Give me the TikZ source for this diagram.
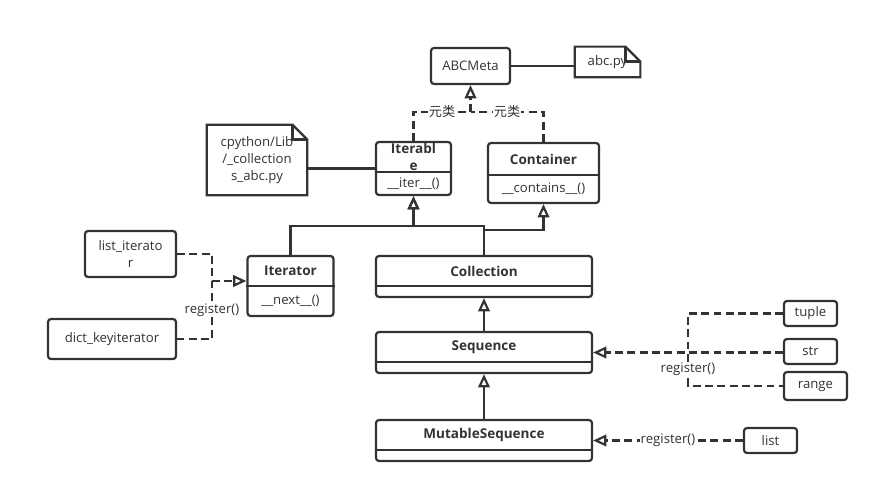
\documentclass[tikz,border=0pt]{standalone}
\usepackage{fontspec}
\setmainfont{Open Sans}
\newfontfamily\cjk{Noto Sans CJK SC}
\usetikzlibrary{arrows.meta}

\colorlet{ink}{black!80}
\tikzset{
  box/.style={draw=ink, text=ink, line width=1.25pt, rounded corners=1.7pt, align=center,
    inner sep=1pt, font=\fontsize{7.5}{9.5}\selectfont},
  cls/.style={draw=ink, line width=1.25pt, rounded corners=1.7pt, inner sep=0pt},
  hd/.style={text=ink, align=center, inner sep=0pt, font=\fontsize{7.7}{9.5}\selectfont\bfseries},
  op/.style={text=ink, inner sep=0pt, font=\fontsize{7.5}{9.5}\selectfont},
  notetext/.style={text=ink, align=center, inner sep=0pt, font=\fontsize{7.5}{9.5}\selectfont},
  lnk/.style={draw=ink, line width=1.25pt},
  gen/.style={lnk, -{Triangle[open, length=7.5pt, width=6.5pt, line width=1.25pt]}},
  dsh/.style={lnk, dash pattern=on 4.5pt off 2.5pt},
  real/.style={dsh, -{Triangle[open, length=7.5pt, width=6.5pt, line width=1.25pt]}},
  lbl/.style={fill=white, text=ink, inner sep=0.5pt, font=\fontsize{7.5}{9.5}\selectfont},
}

\begin{document}
\begin{tikzpicture}[x=0.02cm, y=-0.02cm]
\useasboundingbox (0,0) rectangle (879,493);

% top
\node[box, minimum width=1.58cm, minimum height=0.72cm] (abcmeta) at (470.5,66) {ABCMeta};
\node[notetext, minimum width=1.3cm, minimum height=0.6cm] (abcnote) at (607.5,62) {abc.py};
\draw[lnk] (abcnote.north west) -- ([xshift=-8.5pt]abcnote.north east) -- ([yshift=-8.5pt]abcnote.north east)
  -- (abcnote.south east) -- (abcnote.south west) -- cycle;
\draw[lnk] ([xshift=-8.5pt]abcnote.north east) |- ([yshift=-8.5pt]abcnote.north east);
\draw[lnk] (abcmeta.east) -- (abcmeta.east -| abcnote.west);

\node[notetext, minimum width=2cm, minimum height=1.4cm] (srcnote) at (257,160) {cpython/Lib\\/\_collection\\s\_abc.py};
\draw[lnk] (srcnote.north west) -- ([xshift=-8.5pt]srcnote.north east) -- ([yshift=-8.5pt]srcnote.north east)
  -- (srcnote.south east) -- (srcnote.south west) -- cycle;
\draw[lnk] ([xshift=-8.5pt]srcnote.north east) |- ([yshift=-8.5pt]srcnote.north east);

% classes
\node[cls, minimum width=1.5cm, minimum height=1.06cm] (iterable) at (413.5,168.5) {};
\draw[lnk] (iterable.west |- 0,172) -- (iterable.east |- 0,172);
\node[hd] (iterableT) at (413.5,157) {Iterabl\\e};
\node[op] (iterableM) at (413.5,183.5) {\_\_iter\_\_()};

\node[cls, minimum width=2.22cm, minimum height=1.2cm] (container) at (543.5,173) {};
\draw[lnk] (container.west |- 0,175) -- (container.east |- 0,175);
\node[hd] (containerT) at (543.5,159) {Container};
\node[op] (containerM) at (543.5,189) {\_\_contains\_\_()};

\node[cls, minimum width=1.72cm, minimum height=1.2cm] (iterator) at (290.5,286) {};
\draw[lnk] (iterator.west |- 0,286) -- (iterator.east |- 0,286);
\node[hd] (iteratorT) at (290.5,271) {Iterator};
\node[op] (iteratorM) at (290.5,301) {\_\_next\_\_()};

\node[cls, minimum width=4.32cm, minimum height=0.82cm] (collection) at (484,276.5) {};
\draw[lnk] (collection.west |- 0,286) -- (collection.east |- 0,286);
\node[hd] (collectionT) at (484,271) {Collection};

\node[cls, minimum width=4.32cm, minimum height=0.82cm] (sequence) at (484,352.5) {};
\draw[lnk] (sequence.west |- 0,362) -- (sequence.east |- 0,362);
\node[hd] (sequenceT) at (484,347) {Sequence};

\node[cls, minimum width=4.32cm, minimum height=0.82cm] (mutable) at (484,440.5) {};
\draw[lnk] (mutable.west |- 0,450) -- (mutable.east |- 0,450);
\node[hd] (mutableT) at (484,435) {MutableSequence};

\draw[lnk] (iterable.west) -- (iterable.west -| srcnote.east);

% metaclass
\coordinate (meta) at (470.5,112);
\draw[real] (iterable.north) |- node[lbl, pos=0.75] {\cjk 元类} (meta) -- (abcmeta.south);
\draw[dsh] (container.north) |- node[lbl, pos=0.75] {\cjk 元类} (meta);

% inheritance
\coordinate (jn) at (413.5,226);
\coordinate (jc) at (484,230);
\draw[gen] (iterator.north) |- (jn) -- (iterable.south);
\draw[gen] (collection.north) |- (jn) -- (iterable.south);
\draw[gen] (jc) -| (container.south);
\draw[gen] (sequence.north) -- (collection.south);
\draw[gen] (mutable.north) -- (sequence.south);

% registered
\node[box, minimum width=1.82cm, minimum height=0.92cm] (listit) at (130.5,254) {list\_iterato\\r};
\node[box, minimum width=2.56cm, minimum height=0.8cm] (dictit) at (112,339) {dict\_keyiterator};
\coordinate (regl) at (212,281);
\draw[dsh] (listit.east) -| (regl) |- node[lbl, pos=0.25] {register()} (dictit.east);
\draw[real] (regl) -- (regl -| iterator.west);

\node[box, minimum width=1.06cm, minimum height=0.5cm] (tuple) at (810.5,313.5) {tuple};
\node[box, minimum width=1.06cm, minimum height=0.5cm] (str) at (810.5,351.5) {str};
\node[box, minimum width=1.26cm, minimum height=0.56cm] (range) at (815.5,386) {range};
\coordinate (regs) at (688,352.5);
\draw[dsh] (tuple.west) -| (regs) |- node[lbl, pos=0.25] {register()} (range.west);
\draw[real] (sequence.east -| str.west) -- (sequence.east);

\node[box, minimum width=1.06cm, minimum height=0.5cm] (list) at (770.5,440.5) {list};
\draw[real] (list.west) -- node[lbl] {register()} (mutable.east);
\end{tikzpicture}
\end{document}
